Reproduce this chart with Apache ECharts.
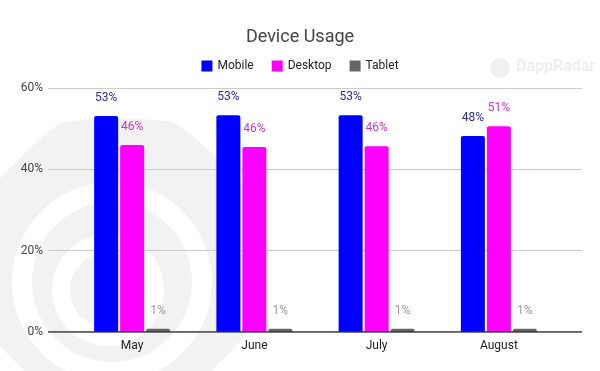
<!DOCTYPE html>
<html><head><meta charset="utf-8">
<script src="https://cdn.jsdelivr.net/npm/echarts@6/dist/echarts.min.js"></script>
<style>html,body{margin:0;padding:0;background:#fff}#c{width:600px;height:371px}</style>
</head><body><div id="c"></div>
<script>
const categories = ['May', 'June', 'July', 'August'];
const mobile = [53.1, 53.3, 53.3, 48.2];
const desktop = [46.0, 45.5, 45.7, 50.6];
const tablet = [0.8, 0.8, 0.8, 0.8];
const yTicks = [0, 20, 40, 60];

const chart = echarts.init(document.getElementById('c'), null, {renderer: 'canvas'});
const lbl = (color) => ({
  show: true, position: 'top', distance: 12, color: color, fontSize: 12,
  fontFamily: 'Roboto', formatter: p => Math.round(p.value) + '%'
});
function octagon(cx, cy, r) {
  const pts = [];
  for (let i = 0; i < 8; i++) {
    const a = Math.PI / 8 + i * Math.PI / 4;
    pts.push([cx + r * Math.cos(a), cy + r * Math.sin(a)]);
  }
  return pts;
}
chart.setOption({
  animation: false,
  backgroundColor: '#fff',
  textStyle: {fontFamily: 'Roboto'},
  title: {text: 'Device Usage', left: 'center', top: 23,
    textStyle: {fontSize: 18, fontWeight: 'normal', color: '#444', fontFamily: 'Roboto'}},
  legend: {top: 55, left: 'center', itemWidth: 11, itemHeight: 11, itemGap: 18,
    icon: 'rect', textStyle: {fontSize: 12, color: '#222', fontFamily: 'Roboto'},
    data: ['Mobile', 'Desktop', 'Tablet']},
  graphic: [
    {type: 'polygon', z: -10, shape: {points: octagon(118, 262, 150), smooth: 0.15},
      style: {fill: '#f2f2f2'}},
    {type: 'ring', z: -9, shape: {cx: 112, cy: 282, r: 100, r0: 80}, style: {fill: '#fff'}},
    {type: 'ring', z: -9, shape: {cx: 108, cy: 290, r: 56, r0: 38}, style: {fill: '#fff'}},
    {type: 'group', left: 490, top: 58, z: -5, children: [
      {type: 'circle', shape: {cx: 10, cy: 10, r: 10}, style: {fill: '#f0f0f0'}},
      {type: 'text', left: 26, top: 1, style: {text: 'DappRadar', fontSize: 16, fontWeight: 'bold',
        fill: '#eeeeee', fontFamily: 'Roboto'}}
    ]}
  ],
  grid: [
    {left: 48, right: 18, top: 88, bottom: 39},
    {left: 71, width: 489, top: 88, bottom: 39}
  ],
  xAxis: [
    {gridIndex: 0, type: 'value', min: 0, max: 1, show: false},
    {gridIndex: 1, type: 'category', data: categories,
      axisLine: {show: false}, axisTick: {show: false},
      axisLabel: {color: '#222', fontSize: 12, margin: 8, fontFamily: 'Roboto'}}
  ],
  yAxis: [
    {gridIndex: 0, type: 'value', min: 0, max: 60, interval: 20,
      axisLabel: {color: '#444', fontSize: 12, margin: 5, fontFamily: 'Roboto',
        formatter: v => yTicks.includes(v) ? v + '%' : ''},
      splitLine: {lineStyle: {color: '#cccccc'}},
      axisLine: {show: false}, axisTick: {show: false}},
    {gridIndex: 1, type: 'value', min: 0, max: 60, interval: 20, show: false,
      splitLine: {show: false}}
  ],
  series: [
    {type: 'line', xAxisIndex: 0, yAxisIndex: 0, data: [[0, 0], [1, 0]], symbol: 'none',
      lineStyle: {color: '#333', width: 1.5}, silent: true, z: 5},
    {name: 'Mobile', type: 'bar', xAxisIndex: 1, yAxisIndex: 1, data: mobile, barWidth: 24, barGap: '8.3%',
      itemStyle: {color: '#0000ff', borderRadius: [2, 2, 0, 0]}, label: lbl('#2b2ba3')},
    {name: 'Desktop', type: 'bar', xAxisIndex: 1, yAxisIndex: 1, data: desktop, barWidth: 24, barGap: '8.3%',
      itemStyle: {color: '#ff00ff', borderRadius: [2, 2, 0, 0]}, label: lbl('#c837c8')},
    {name: 'Tablet', type: 'bar', xAxisIndex: 1, yAxisIndex: 1, data: tablet, barWidth: 24, barGap: '8.3%',
      itemStyle: {color: '#666666', borderRadius: [2, 2, 0, 0]}, label: lbl('#999999')}
  ]
});
</script></body></html>
